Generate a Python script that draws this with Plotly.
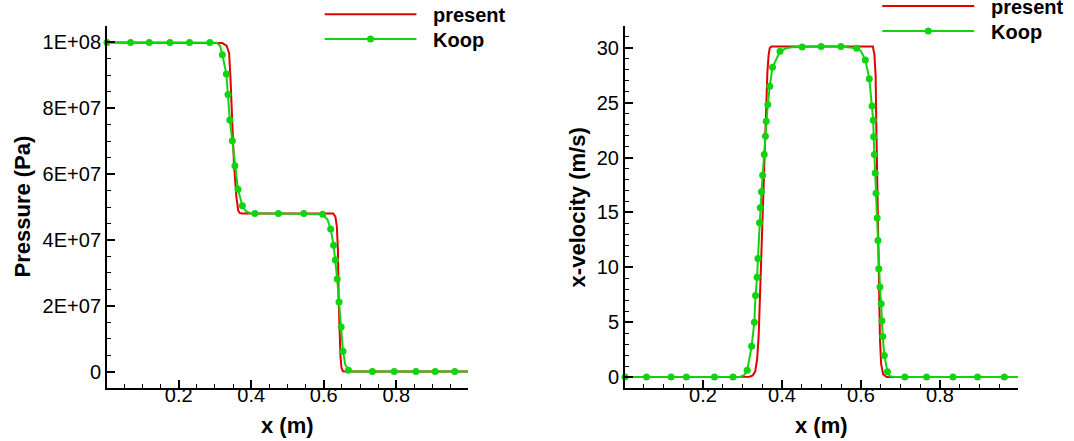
import plotly.graph_objects as go

# ---------------- data ----------------
# Left panel: pressure (Pa)
present_p_x = [0.0025, 0.300, 0.320, 0.332, 0.339, 0.343, 0.346, 0.349, 0.3524, 0.359, 0.364, 0.368, 0.375,
               0.626, 0.632, 0.636, 0.639, 0.641, 0.643, 0.646, 0.649, 0.653, 0.660, 0.9975]
present_p = [1.0e8, 1.0e8, 0.998e8, 0.99e8, 0.968e8, 0.887e8, 0.80e8, 0.734e8, 0.633e8, 0.532e8, 0.49e8, 0.482e8, 0.48e8,
             0.48e8, 0.471e8, 0.441e8, 0.37e8, 0.218e8, 0.147e8, 0.046e8, 0.01e8, 0.001e8, 0.0, 0.0]

koop_p_mx = [0.0025, 0.0676, 0.119, 0.176, 0.230, 0.286, 0.3205, 0.3315, 0.336, 0.341, 0.348, 0.355, 0.3635, 0.3755,
             0.410, 0.475, 0.545, 0.597, 0.619, 0.627, 0.632, 0.637, 0.642, 0.648, 0.653, 0.668,
             0.734, 0.794, 0.854, 0.907, 0.961]
koop_p_my = [1.0e8, 1.0e8, 1.0e8, 1.0e8, 1.0e8, 1.0e8, 0.9625e8, 0.904e8, 0.842e8, 0.764e8, 0.701e8, 0.625e8, 0.554e8, 0.504e8,
             0.480e8, 0.480e8, 0.480e8, 0.478e8, 0.433e8, 0.384e8, 0.339e8, 0.281e8, 0.211e8, 0.135e8, 0.062e8, 0.004e8,
             0.0, 0.0, 0.0, 0.0, 0.0]
# extra points of the Koop curve between symbols (bends)
koop_p_bx = [0.305, 0.314, 0.385, 0.395, 0.610, 0.659, 0.680, 0.9975]
koop_p_by = [0.999e8, 0.99e8, 0.488e8, 0.482e8, 0.462e8, 0.022e8, 0.0, 0.0]

# Right panel: x-velocity (m/s)
present_u_x = [0.0025, 0.300, 0.318, 0.326, 0.332, 0.337, 0.341, 0.344, 0.348, 0.352, 0.355, 0.359, 0.363, 0.366,
               0.369, 0.373, 0.630, 0.634, 0.637, 0.639, 0.642, 0.645, 0.648, 0.651, 0.656, 0.665, 0.9975]
present_u = [0.0, 0.0, 0.03, 0.15, 0.5, 1.6, 3.8, 7.1, 11.6, 16.5, 20.0, 24.5, 27.8, 29.3,
             30.0, 30.12, 30.12, 29.4, 27.5, 22.5, 15.5, 8.0, 3.5, 1.2, 0.25, 0.0, 0.0]

koop_u_mx = [0.0025, 0.057, 0.119, 0.158, 0.229, 0.276, 0.312, 0.323, 0.330, 0.333, 0.337, 0.339, 0.343, 0.345,
             0.348, 0.351, 0.355, 0.358, 0.360, 0.364, 0.369, 0.376, 0.395, 0.451, 0.499, 0.549, 0.589,
             0.611, 0.621, 0.628, 0.631, 0.632, 0.634, 0.636, 0.638, 0.641, 0.643, 0.645, 0.648, 0.651,
             0.653, 0.655, 0.659, 0.667, 0.711, 0.766, 0.833, 0.895, 0.963]
koop_u_my = [0.0, 0.0, 0.0, 0.0, 0.0, 0.0, 0.61, 2.8, 5.0, 7.44, 9.1, 10.8, 14.06, 15.43,
             16.88, 18.4, 20.28, 21.95, 23.32, 24.84, 26.51, 28.24, 29.70, 30.09, 30.12, 30.12, 29.98,
             28.9, 27.2, 24.7, 23.4, 21.9, 20.28, 18.6, 16.75, 14.5, 12.45, 9.88, 8.2, 6.68,
             5.12, 3.7, 1.97, 0.49, 0.0, 0.0, 0.0, 0.0, 0.0]
koop_u_bx = [0.295, 0.305, 0.410, 0.425, 0.600, 0.673, 0.685, 0.9975]
koop_u_by = [0.03, 0.2, 29.97, 30.06, 29.7, 0.08, 0.0, 0.0]

x_range = [0.0025, 0.9975]
p_range = [-5e6, 1.05e8]
u_range = [-1, 32]
p_tickvals = [0, 2e7, 4e7, 6e7, 8e7, 1e8]
p_ticktext = ["0", "2E+07", "4E+07", "6E+07", "8E+07", "1E+08"]

series_names = ["present", "Koop"]

# ---------------- styling ----------------
RED = "#e00000"
GREEN = "#11d411"
FONT = "Liberation Sans"
W, H = 1074, 441


def merged(mx, my, bx, by):
    pts = sorted(zip(list(mx) + list(bx), list(my) + list(by)))
    return [p[0] for p in pts], [p[1] for p in pts]


kpx, kpy = merged(koop_p_mx, koop_p_my, koop_p_bx, koop_p_by)
kux, kuy = merged(koop_u_mx, koop_u_my, koop_u_bx, koop_u_by)

fig = go.Figure()
# left
fig.add_trace(go.Scatter(x=present_p_x, y=present_p, mode="lines", line=dict(color=RED, width=2),
                         xaxis="x", yaxis="y", showlegend=False))
fig.add_trace(go.Scatter(x=kpx, y=kpy, mode="lines", line=dict(color=GREEN, width=2),
                         xaxis="x", yaxis="y", showlegend=False))
fig.add_trace(go.Scatter(x=koop_p_mx, y=koop_p_my, mode="markers", marker=dict(color=GREEN, size=7),
                         cliponaxis=False, xaxis="x", yaxis="y", showlegend=False))
# right
fig.add_trace(go.Scatter(x=present_u_x, y=present_u, mode="lines", line=dict(color=RED, width=2),
                         xaxis="x2", yaxis="y2", showlegend=False))
fig.add_trace(go.Scatter(x=kux, y=kuy, mode="lines", line=dict(color=GREEN, width=2),
                         xaxis="x2", yaxis="y2", showlegend=False))
fig.add_trace(go.Scatter(x=koop_u_mx, y=koop_u_my, mode="markers", marker=dict(color=GREEN, size=7),
                         cliponaxis=False, xaxis="x2", yaxis="y2", showlegend=False))
# invisible carriers so the tick-label companion axes get drawn
fig.add_trace(go.Scatter(x=x_range, y=[None, None], mode="lines", xaxis="x3", yaxis="y",
                         showlegend=False, hoverinfo="skip"))
fig.add_trace(go.Scatter(x=x_range, y=[None, None], mode="lines", xaxis="x4", yaxis="y2",
                         showlegend=False, hoverinfo="skip"))

tickfont = dict(family=FONT, size=20, color="black")

ydom = [1 - 388 / H, 1 - 26 / H]
lx = [107 / W, 468 / W]
rx = [625 / W, 1018 / W]


def xaxis_cfg(domain, anchor):
    # axis line + inside ticks, labels drawn by a companion axis
    return dict(domain=domain, anchor=anchor, range=x_range, tick0=0, dtick=0.2,
                showline=True, linecolor="black", linewidth=2, showgrid=False, zeroline=False,
                ticks="inside", ticklen=8, tickwidth=1.5, tickcolor="black", showticklabels=False,
                minor=dict(ticks="inside", ticklen=4, tickwidth=1, tickcolor="black", dtick=0.05, tick0=0))


def xlabel_cfg(domain, over):
    return dict(domain=domain, overlaying=over, anchor="free", position=ydom[0] + 7 / H, side="bottom",
                range=x_range, tick0=0, dtick=0.2, showline=False, showgrid=False, zeroline=False,
                ticks="", showticklabels=True, tickfont=tickfont)


fig.update_layout(
    width=W, height=H, margin=dict(l=0, r=0, t=0, b=0),
    paper_bgcolor="white", plot_bgcolor="white", showlegend=False,
    xaxis=xaxis_cfg(lx, "y"),
    xaxis2=xaxis_cfg(rx, "y2"),
    xaxis3=xlabel_cfg(lx, "x"),
    xaxis4=xlabel_cfg(rx, "x2"),
    yaxis=dict(domain=ydom, anchor="x", range=p_range, tickmode="array", tickvals=p_tickvals,
               ticktext=p_ticktext, showline=True, linecolor="black", linewidth=2, showgrid=False,
               zeroline=False, ticks="inside", ticklen=8, tickwidth=1.5, tickcolor="black", tickfont=tickfont,
               minor=dict(ticks="inside", ticklen=4, tickwidth=1, tickcolor="black", dtick=5e6, tick0=0)),
    yaxis2=dict(domain=ydom, anchor="x2", range=u_range, tick0=0, dtick=5,
                showline=True, linecolor="black", linewidth=2, showgrid=False,
                zeroline=False, ticks="inside", ticklen=8, tickwidth=1.5, tickcolor="black", tickfont=tickfont,
                minor=dict(ticks="inside", ticklen=4, tickwidth=1, tickcolor="black", dtick=1, tick0=0)),
)

titlefont = dict(family=FONT, size=22, color="black")
ann = []
ann.append(dict(text="<b>x (m)</b>", x=(lx[0] + lx[1]) / 2, y=1 - 425 / H, xref="paper", yref="paper",
                showarrow=False, xanchor="center", yanchor="middle", font=titlefont))
ann.append(dict(text="<b>x (m)</b>", x=(rx[0] + rx[1]) / 2, y=1 - 425 / H, xref="paper", yref="paper",
                showarrow=False, xanchor="center", yanchor="middle", font=titlefont))
ann.append(dict(text="<b>Pressure (Pa)</b>", x=21.5 / W, y=(ydom[0] + ydom[1]) / 2, xref="paper", yref="paper",
                showarrow=False, xanchor="center", yanchor="middle", textangle=-90, font=titlefont))
ann.append(dict(text="<b>x-velocity (m/s)</b>", x=577.4 / W, y=(ydom[0] + ydom[1]) / 2, xref="paper",
                yref="paper", showarrow=False, xanchor="center", yanchor="middle", textangle=-90, font=titlefont))

# legends (drawn as keys)
legfont = dict(family=FONT, size=20, color="black")
shapes = []


def add_legend(x0, x1, xt, y_red, y_green):
    mid = (x0 + x1) / 2
    shapes.append(dict(type="line", xref="paper", yref="paper", x0=x0 / W, x1=x1 / W,
                       y0=1 - y_red / H, y1=1 - y_red / H, line=dict(color=RED, width=2)))
    shapes.append(dict(type="line", xref="paper", yref="paper", x0=x0 / W, x1=x1 / W,
                       y0=1 - y_green / H, y1=1 - y_green / H, line=dict(color=GREEN, width=2)))
    shapes.append(dict(type="circle", xref="paper", yref="paper", x0=(mid - 3.5) / W, x1=(mid + 3.5) / W,
                       y0=1 - (y_green + 3.5) / H, y1=1 - (y_green - 3.5) / H,
                       fillcolor=GREEN, line=dict(color=GREEN, width=0)))
    for name, yy in zip(series_names, [y_red, y_green]):
        ann.append(dict(text="<b>%s</b>" % name, x=xt / W, y=1 - (yy + 1) / H, xref="paper", yref="paper",
                        showarrow=False, xanchor="left", yanchor="middle", font=legfont))


add_legend(324.7, 416.4, 431, 14.3, 39)
add_legend(882.3, 974.2, 989, 6, 31)

fig.update_layout(annotations=ann, shapes=shapes)
fig.write_html("out.html")
